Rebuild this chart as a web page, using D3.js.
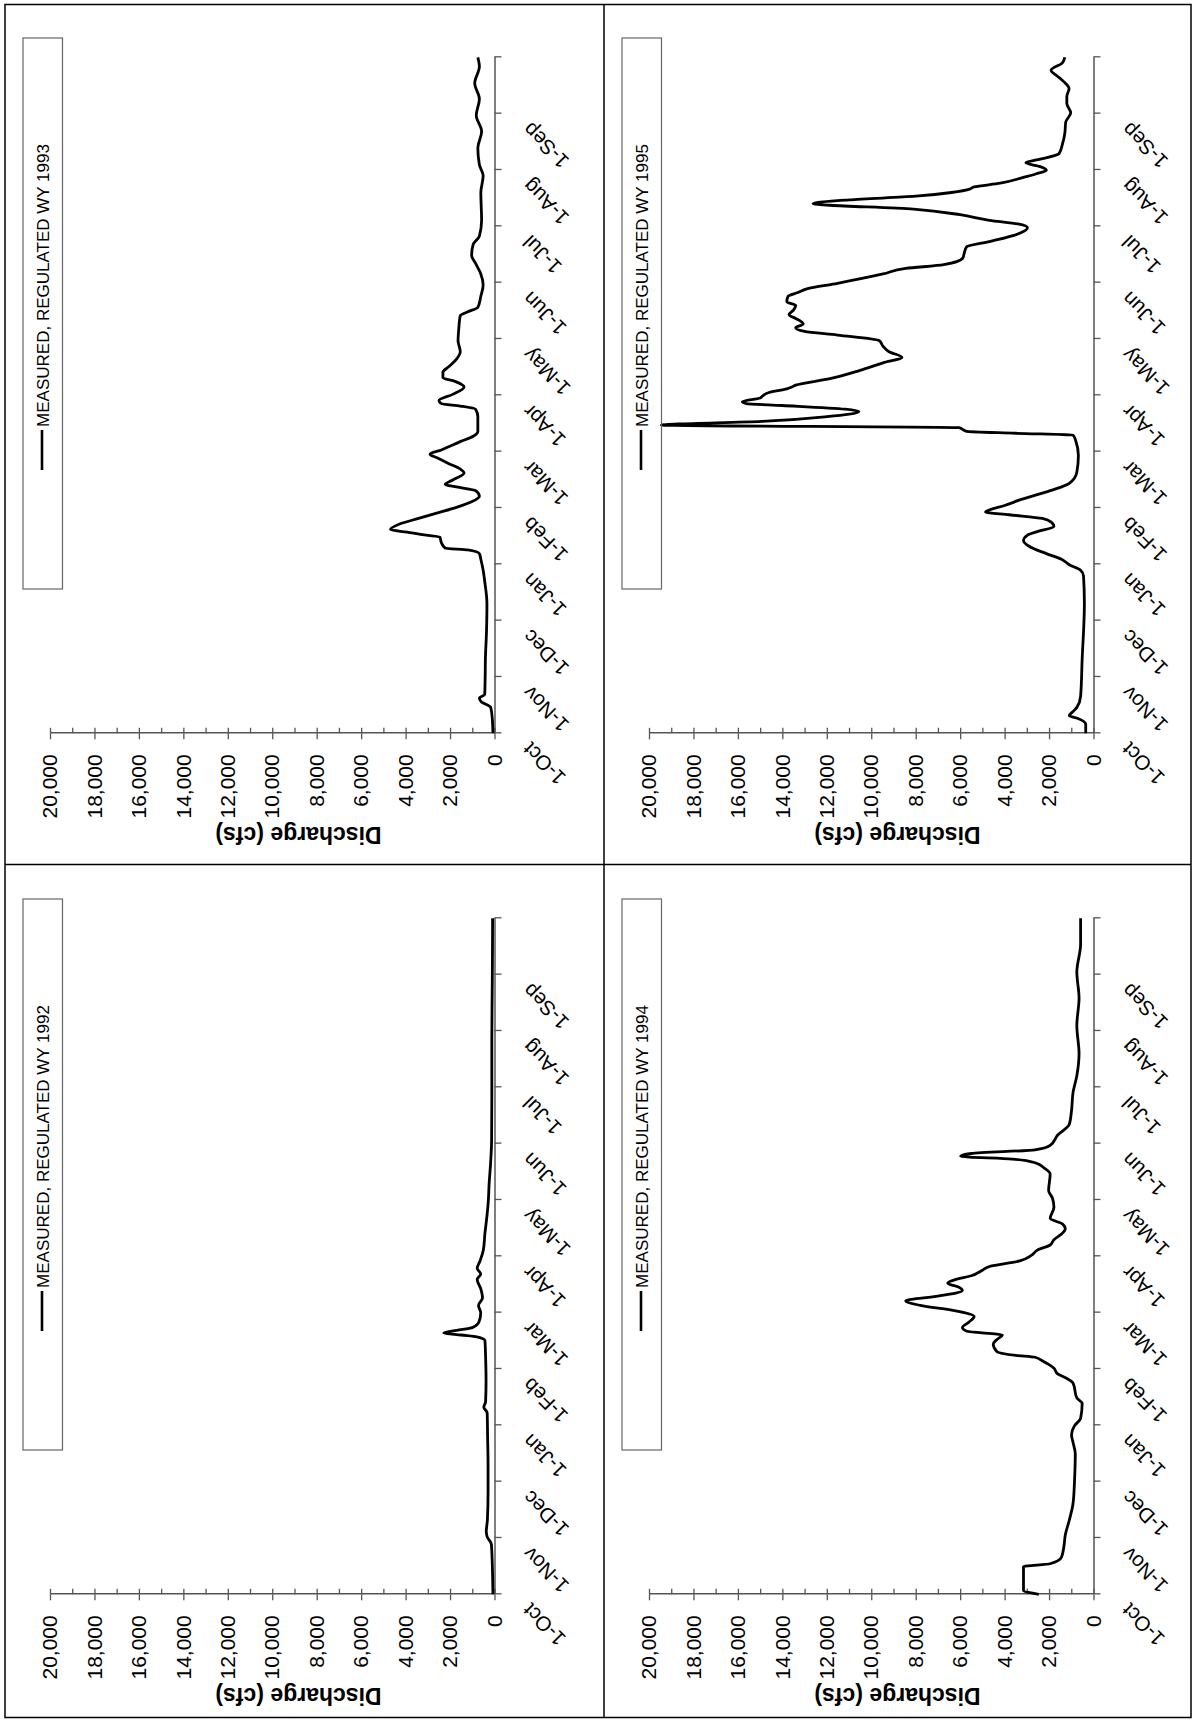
<!DOCTYPE html>
<html>
<head>
<meta charset="utf-8">
<script src="https://cdn.jsdelivr.net/npm/d3@7"></script>
<style>
  html, body { margin: 0; padding: 0; background: #fff; }
  svg { display: block; font-family: "Liberation Sans", Arial, sans-serif; }
</style>
</head>
<body>
<svg id="chart" width="1193" height="1720"></svg>
<script>
// ---------------- DATA ----------------
// Month tick labels (water year: Oct -> Sep)
const monthLabels = ["1-Oct","1-Nov","1-Dec","1-Jan","1-Feb","1-Mar","1-Apr","1-May","1-Jun","1-Jul","1-Aug","1-Sep"];
// Discharge axis ticks (cfs)
const majorTicks = [0,2000,4000,6000,8000,10000,12000,14000,16000,18000,20000];
const minorTicks = [1000,3000,5000,7000,9000,11000,13000,15000,17000,19000];
const axisTitle = "Discharge (cfs)";
const legendPrefix = "MEASURED, REGULATED WY ";

// Each series: [day of water year (0 = 1-Oct), discharge cfs]
const wy1993 = [[0,70],[8,100],[14,170],[17,600],[19,680],[21,440],[30,420],[40,410],[55,360],[70,340],[82,440],[88,510],[94,615],[97,680],[99,1200],[100,2220],[103,2390],[106,2460],[107,3080],[108.6,3930],[110,4680],[113,4270],[116,3420],[119,2560],[122,1710],[125,1030],[128,680],[131,850],[133,1710],[134.4,2220],[136.8,1880],[140.6,1370],[142.7,1540],[145.6,2050],[148.6,2560],[150.7,2900],[153,2390],[157.5,1540],[160.4,960],[163,750],[171,750],[175,850],[176.7,1540],[178,2390],[179.7,2500],[183,1880],[187,1370],[190,1780],[192,2320],[195,2320],[198,2050],[202,1710],[206,1540],[212,1640],[218,1610],[225.5,1540],[227.6,1200],[230,750],[236,615],[242,510],[248,615],[253.7,850],[258,1030],[264,960],[268.5,680],[277,580],[292,615],[301,510],[307,680],[316,750],[325,580],[333.6,820],[342.5,680],[351,890],[360,680],[365,750]];

const wy1995 = [[0,350],[5,350],[8,700],[9.5,1090],[12,900],[14,750],[20,580],[40,510],[70,410],[85,450],[88,580],[91,1090],[94,1440],[97,2120],[101,2900],[104,3150],[107,2970],[109,2500],[111.6,1780],[114,1900],[116,2300],[118,3800],[119.5,4860],[121,4600],[123,4000],[126,3320],[131,1950],[135,1090],[141,750],[150,680],[158,800],[161,920],[162,3500],[163,5710],[165,6050],[166.4,19450],[168.4,14940],[171,12000],[173.8,10560],[175,11180],[177,14000],[178,15620],[179,15800],[181,15000],[182,14900],[184,14600],[186,13800],[187,13570],[188,13400],[191.5,11860],[196,10500],[200,9470],[203,8620],[206,9200],[209,9470],[212,9640],[215,11520],[217,13000],[219,13400],[221,13060],[224,13400],[226,13700],[228.5,13500],[231,13400],[233,13800],[236,13740],[238,13300],[240,12900],[243,11520],[248,9470],[251,8450],[253,6740],[256.6,5880],[260,5800],[262.6,5710],[265.5,4680],[270,3320],[273,2970],[275,3400],[277,4680],[280,6000],[283,8100],[286,12620],[288,11000],[290,8000],[292,6390],[294,5540],[295,5370],[297,4200],[300,3200],[302,2600],[304,2120],[306,2400],[308,3045],[310,2400],[313,1550],[318,1400],[324,1290],[330,1250],[335,1025],[340,1200],[344,1200],[348,1100],[352,1350],[355,1650],[358,1910],[362,1400],[365,1290]];

const wy1992 = [[0,70],[10,85],[20,110],[27,140],[31,330],[34,370],[40,320],[55,290],[70,290],[85,310],[98,330],[101,480],[104,400],[115,380],[128,400],[137,430],[139,800],[140,1500],[141.2,2280],[142.5,1700],[144,1000],[147,700],[152,620],[156,720],[160,540],[165,620],[170,780],[173,620],[176,780],[180,650],[186,500],[195,430],[202,360],[212,280],[222,240],[232,180],[245,130],[270,120],[300,120],[330,100],[365,85]];

const wy1994 = [[0,2460],[2,3150],[5,3150],[10,3150],[15,3150],[16.5,1950],[20,1440],[26,1330],[32,1270],[40,1090],[49,920],[61,855],[76,820],[82,920],[86,990],[91,855],[95,580],[103,510],[106,750],[114,920],[117,1270],[119,1610],[122,1780],[124,2000],[126,2290],[128,2630],[129,3490],[131,4340],[135,4510],[138,4300],[140,4100],[142,5700],[144,5900],[147,5600],[150,5370],[153,6200],[156,7800],[158.5,8450],[161,7000],[164,5900],[166,6100],[168,6560],[170,6200],[172,5500],[175,5000],[177,4680],[180,3320],[183,2800],[186,2500],[188.6,1950],[191.5,1780],[194.5,1440],[197.4,1270],[200,1400],[203,1950],[209,1780],[214,1850],[218,2020],[227,1950],[230,2200],[233,2630],[235,3660],[236.5,5980],[238,5500],[240,2630],[242.4,1950],[248,1610],[253.7,1090],[261,990],[271,920],[280,750],[292,650],[307,750],[322,650],[336,750],[351,580],[365,580]];

const panels = [
  { year: 1993, series: wy1993, col: 0, row: 0 },
  { year: 1995, series: wy1995, col: 1, row: 0 },
  { year: 1992, series: wy1992, col: 0, row: 1 },
  { year: 1994, series: wy1994, col: 1, row: 1 }
];

// ---------------- LAYOUT ----------------
const svg = d3.select("#chart");
const colX = [50, 649];        // page x of the 20,000 end of the discharge axis
const rowY = [733.3, 1594.3];  // page y of the 1-Oct end of the time axis
const plotW = 676;             // time axis length
const plotH = 444.5;           // discharge axis length
const fontFam = '"Liberation Sans", Arial, sans-serif';

// frame
svg.append("rect").attr("x", 5).attr("y", 4.5).attr("width", 1186).attr("height", 1713)
  .attr("fill", "none").attr("stroke", "#000").attr("stroke-width", 1.5);
svg.append("line").attr("x1", 604).attr("x2", 604).attr("y1", 4.5).attr("y2", 1717.5)
  .attr("stroke", "#000").attr("stroke-width", 1.5);
svg.append("line").attr("x1", 5).attr("x2", 1191).attr("y1", 864.5).attr("y2", 864.5)
  .attr("stroke", "#000").attr("stroke-width", 1.5);

const daysInYear = 365;
const monthTickDays = d3.range(13).map(i => i * daysInYear / 12);

panels.forEach(p => {
  // chart drawn in landscape coordinates, then turned a quarter turn counter-clockwise
  const g = svg.append("g")
    .attr("transform", `translate(${colX[p.col]},${rowY[p.row]}) rotate(-90)`);

  const x = d3.scaleLinear().domain([0, daysInYear]).range([0, plotW]);
  const y = d3.scaleLinear().domain([0, 20000]).range([plotH, 0]);

  // discharge axis: crossing major ticks with labels
  const yAx = g.append("g").attr("color", "#555")
    .call(d3.axisLeft(y).tickValues(majorTicks).tickSize(6).tickSizeOuter(0)
      .tickPadding(15).tickFormat(d3.format(",")));
  yAx.select(".domain").attr("stroke-width", 1.5);
  yAx.selectAll(".tick line").attr("stroke-width", 1.3);
  yAx.selectAll(".tick text").attr("fill", "#000").attr("font-size", 21)
    .attr("font-family", fontFam);

  // inside ticks (major + minor)
  const yIn = g.append("g").attr("color", "#555")
    .call(d3.axisRight(y).tickValues(majorTicks.concat(minorTicks)).tickSize(5.5).tickSizeOuter(0).tickFormat(""));
  yIn.select(".domain").remove();
  yIn.selectAll(".tick line").attr("stroke-width", 1.3);

  // time axis
  const xAx = g.append("g").attr("color", "#555")
    .attr("transform", `translate(0,${plotH})`)
    .call(d3.axisBottom(x).tickValues(monthTickDays).tickSize(7).tickSizeOuter(0)
      .tickFormat((d, i) => i < monthLabels.length ? monthLabels[i] : ""));
  xAx.select(".domain").attr("stroke-width", 1.5);
  xAx.selectAll(".tick line").attr("stroke-width", 1.3);
  xAx.selectAll(".tick text")
    .attr("fill", "#000").attr("font-size", 20.5).attr("font-family", fontFam)
    .attr("x", 0).attr("y", 0).attr("dy", 0)
    .attr("text-anchor", "end")
    .attr("transform", "translate(-8,37) rotate(-45)");

  // axis title
  g.append("text")
    .attr("transform", `translate(-94,248.5) rotate(-90)`)
    .attr("text-anchor", "middle")
    .attr("font-size", 23).attr("font-weight", "bold").attr("font-family", fontFam)
    .text(axisTitle);

  // data line
  const line = d3.line()
    .x(d => x(d[0]))
    .y(d => y(d[1]))
    .curve(d3.curveMonotoneX);
  g.append("path").datum(p.series)
    .attr("fill", "none").attr("stroke", "#000").attr("stroke-width", 2.8)
    .attr("stroke-linejoin", "round")
    .attr("d", line);

  // legend
  const lg = g.append("g");
  lg.append("rect").attr("x", 144.3).attr("y", -27).attr("width", 551).attr("height", 39.5)
    .attr("fill", "none").attr("stroke", "#666").attr("stroke-width", 1.2);
  lg.append("line").attr("x1", 263.3).attr("x2", 303.3).attr("y1", -8).attr("y2", -8)
    .attr("stroke", "#000").attr("stroke-width", 2.6);
  lg.append("text").attr("x", 306.4).attr("y", -1.5)
    .attr("font-size", 17).attr("font-family", fontFam)
    .text(legendPrefix + p.year);
});
</script>
</body>
</html>
